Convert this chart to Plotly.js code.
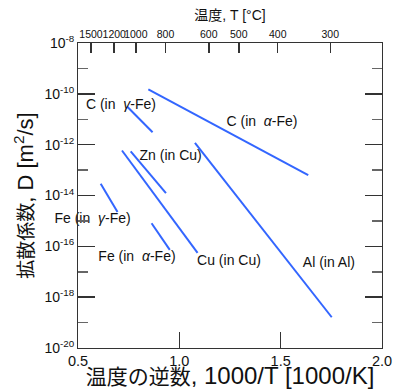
<!DOCTYPE html>
<html>
<head>
<meta charset="utf-8">
<script src="https://cdn.plot.ly/plotly-3.0.1.min.js"></script>
<style>html,body{margin:0;padding:0;background:#fff;}#chart{width:394px;height:389px;}</style>
</head>
<body>
<div id="chart"></div>
<script>
// Each series: [1000/T start, 1000/T end], [log10 D start, log10 D end]
const seriesNames = ["C (in α-Fe)", "C (in γ-Fe)", "Zn (in Cu)", "Cu (in Cu)", "Fe (in γ-Fe)", "Fe (in α-Fe)", "Al (in Al)"];
const seriesX = [
  [0.847, 1.636],
  [0.742, 0.868],
  [0.760, 0.934],
  [0.717, 1.090],
  [0.612, 0.695],
  [0.863, 0.953],
  [1.077, 1.752]
];
const seriesLogD = [
  [-9.82, -13.20],
  [-10.50, -11.51],
  [-12.26, -13.91],
  [-12.23, -16.26],
  [-13.54, -14.65],
  [-15.09, -16.14],
  [-11.93, -18.79]
];
const labelText = ["C (in  <i>α</i>-Fe)", "C (in  <i>γ</i>-Fe)", "Zn (in Cu)", "Cu (in Cu)", "Fe (in  <i>γ</i>-Fe)", "Fe (in  <i>α</i>-Fe)", "Al (in Al)"];
const labelX = [1.408, 0.712, 0.957, 1.245, 0.572, 0.791, 1.738];
const labelLogD = [-11.12, -10.46, -12.46, -16.58, -14.95, -16.44, -16.68];

const tempC = [1500, 1200, 1000, 800, 600, 500, 400, 300];
const majorExp = [-8, -10, -12, -14, -16, -18, -20];
const minorExp = [-9, -11, -13, -15, -17, -19];
const xTicks = [0.5, 1.0, 1.5, 2.0];
const xTickText = ["0.5", "1.0", "1.5", "2.0"];

const xTitle = "<span style='font-size:21px'>温度の逆数</span>, 1000/T [1000/K]";
const yTitle = "<span style='font-size:19px'>拡散係数</span>, D [m<sup>2</sup>/s]";
const topTitle = "温度, T [°C]";

const blue = "#3366ff";
const axCol = "#333333";
const minCol = "#666666";
const font = "Liberation Sans, Noto Sans CJK JP, sans-serif";

const tempPos = tempC.map(t => 1000 / (t + 273.15));

const traces = seriesNames.map((n, i) => ({
  x: seriesX[i],
  y: seriesLogD[i].map(v => Math.pow(10, v)),
  mode: "lines",
  name: n,
  line: {color: blue, width: 2},
  showlegend: false,
  hoverinfo: "skip"
}));
// series labels as a text trace
traces.push({
  x: labelX,
  y: labelLogD.map(v => Math.pow(10, v)),
  text: labelText,
  mode: "text",
  textposition: "middle center",
  textfont: {size: 14, color: "#111", family: font},
  cliponaxis: false,
  showlegend: false,
  hoverinfo: "skip"
});
// invisible traces to activate the extra axes
traces.push({x: [0.5, 2.0], y: [1e-20, 1e-20], xaxis: "x2", yaxis: "y", mode: "lines", line: {width: 0}, showlegend: false, hoverinfo: "skip"});
traces.push({x: [0.5, 2.0], y: [1e-20, 1e-20], xaxis: "x", yaxis: "y3", mode: "lines", line: {width: 0}, showlegend: false, hoverinfo: "skip"});

const layout = {
  width: 394,
  height: 389,
  margin: {l: 78, r: 12, t: 42.5, b: 41},
  font: {family: font, color: "#111"},
  xaxis: {
    range: [0.5, 2.0],
    tickmode: "array",
    tickvals: xTicks,
    ticktext: xTickText,
    ticks: "inside",
    ticklen: 16,
    tickwidth: 1.5,
    tickcolor: axCol,
    showline: true,
    linecolor: axCol,
    showgrid: false,
    zeroline: false,
    tickangle: 0,
    tickfont: {size: 14.5},
    title: {text: xTitle, font: {size: 24}, standoff: 2}
  },
  xaxis2: {
    overlaying: "x",
    side: "top",
    anchor: "y",
    range: [0.5, 2.0],
    tickmode: "array",
    tickvals: tempPos,
    ticktext: tempC.map(String),
    ticks: "inside",
    ticklen: 10,
    tickwidth: 1.5,
    tickcolor: axCol,
    showline: true,
    linecolor: axCol,
    showgrid: false,
    zeroline: false,
    tickangle: 0,
    tickfont: {size: 10.5},
    title: {text: topTitle, font: {size: 14}, standoff: 3}
  },
  yaxis: {
    type: "log",
    range: [-20, -8],
    tickmode: "array",
    tickvals: majorExp.map(e => Math.pow(10, e)),
    ticktext: majorExp.map(e => "10<sup>" + e + "</sup>"),
    ticks: "inside",
    ticklen: 17,
    tickwidth: 1.5,
    tickcolor: axCol,
    mirror: "ticks",
    showline: true,
    linecolor: axCol,
    showgrid: false,
    zeroline: false,
    tickfont: {size: 14},
    title: {text: yTitle, font: {size: 22}, standoff: 4}
  },
  yaxis3: {
    type: "log",
    overlaying: "y",
    side: "left",
    anchor: "x",
    range: [-20, -8],
    tickmode: "array",
    tickvals: minorExp.map(e => Math.pow(10, e)),
    showticklabels: false,
    ticks: "inside",
    ticklen: 10,
    tickwidth: 1.5,
    tickcolor: minCol,
    mirror: "ticks",
    showline: false,
    showgrid: false,
    zeroline: false
  }
};

const gd = document.getElementById("chart");
Plotly.newPlot(gd, traces, layout, {displayModeBar: false, staticPlot: true}).then(() => {
  gd.style.outline = "0px solid transparent";
});
</script>
</body>
</html>
